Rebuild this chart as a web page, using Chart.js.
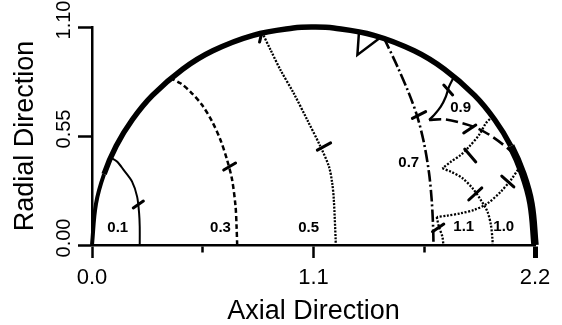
<!DOCTYPE html>
<html><head><meta charset="utf-8">
<script src="https://cdn.jsdelivr.net/npm/chart.js@4.4.1/dist/chart.umd.min.js"></script>
<style>html,body{margin:0;padding:0;background:#fff;overflow:hidden}</style>
</head><body>
<canvas id="chart" width="562" height="325"></canvas>
<script>
// ---- tick values / labels ----
const xTickValues = [0, 0.55, 1.1, 1.65, 2.2];
const xTickLabels = ['0.0', '', '1.1', '', '2.2'];
const yTickValues = [0, 0.55, 1.1];
const yTickLabels = ['0.00', '0.55', '1.10'];

// ---- outer boundary ----
const boundary = [[0,0],[0.02,0.209],[0.06,0.358],[0.12,0.500],[0.2,0.632],[0.3,0.755],[0.45,0.887],[0.6,0.980],[0.8,1.058],[1.0,1.095],[1.1,1.1],[1.2,1.095],[1.4,1.058],[1.6,0.980],[1.75,0.887],[1.9,0.755],[2.0,0.632],[2.08,0.500],[2.14,0.358],[2.18,0.209],[2.2,0]];

// ---- contour lines ----
const contour01 = [[0.237,0],[0.237,0.092],[0.234,0.160],[0.224,0.244],[0.199,0.320],[0.157,0.379],[0.124,0.421],[0.091,0.442]];
const contour03 = [[0.721,0],[0.718,0.092],[0.713,0.193],[0.696,0.328],[0.671,0.429],[0.638,0.530],[0.597,0.622],[0.547,0.706],[0.489,0.773],[0.439,0.816],[0.389,0.842]];
const contour05 = [[0.845,1.072],[0.887,0.984],[0.936,0.883],[1.002,0.765],[1.069,0.631],[1.135,0.496],[1.177,0.395],[1.193,0.311],[1.201,0.227],[1.210,0.025],[1.210,0]];
const contour07 = [[1.450,1.045],[1.517,0.900],[1.574,0.765],[1.616,0.647],[1.649,0.513],[1.674,0.362],[1.687,0.227],[1.694,0.092],[1.696,0]];
const contour07Cusp = [[1.326,1.077],[1.318,0.959],[1.434,1.048]];
const contour09Upper = [[1.798,0.850],[1.773,0.799],[1.757,0.748],[1.732,0.698],[1.699,0.656],[1.674,0.631]];
const contour09Lower = [[1.674,0.631],[1.748,0.634],[1.831,0.617],[1.914,0.589],[1.989,0.546],[2.064,0.488],[2.105,0.446],[2.130,0.390]];
const contour10Upper = [[1.989,0.648],[1.956,0.614],[1.922,0.555],[1.873,0.496],[1.831,0.454],[1.782,0.420],[1.740,0.387]];
const contour10Lower = [[1.740,0.387],[1.782,0.370],[1.840,0.337],[1.890,0.286],[1.931,0.227],[1.964,0.168],[1.981,0.101],[1.989,0.025],[1.989,0]];
const contour11Upper = [[2.125,0.395],[2.080,0.328],[2.030,0.269],[1.964,0.210],[1.898,0.177],[1.831,0.160],[1.765,0.148],[1.712,0.141]];
const contour11Lower = [[1.712,0.141],[1.723,0.092],[1.740,0.042],[1.745,0]];

// ---- small direction marks across the contours (start, end) ----
const markStarts = [[0.205,0.187],[0.654,0.378],[1.119,0.479],[0.832,1.024],[1.591,0.639],[1.691,0.067],[1.747,0.807],[1.846,0.565],[1.851,0.484],[1.871,0.227],[2.035,0.348]];
const markEnds   = [[0.255,0.222],[0.713,0.414],[1.185,0.515],[0.842,1.065],[1.657,0.673],[1.747,0.106],[1.791,0.757],[1.906,0.605],[1.906,0.419],[1.936,0.288],[2.095,0.293]];

// ---- contour level labels ----
const contourLabels = ['0.1', '0.3', '0.5', '0.7', '0.9', '1.1', '1.0'];
const contourLabelX = [0.128, 0.638, 1.076, 1.573, 1.831, 1.846, 2.045];
const contourLabelY = [0.086, 0.086, 0.086, 0.414, 0.694, 0.091, 0.091];

const toXY = arr => arr.map(p => ({x: p[0], y: p[1]}));
const markData = [];
markStarts.forEach((s, i) => {
  markData.push({x: s[0], y: s[1]}, {x: markEnds[i][0], y: markEnds[i][1]}, {x: null, y: null});
});

const FONT = '"Liberation Sans", Arial, sans-serif';
Chart.defaults.font.family = FONT;
Chart.defaults.color = '#000';

function line(data, width, dash, tension, extra) {
  return Object.assign({
    data: toXY(data), showLine: true, borderColor: '#000', backgroundColor: '#000',
    borderWidth: width, borderDash: dash, pointRadius: 0, tension: tension, fill: false, clip: false
  }, extra || {});
}

const labelPlugin = {
  id: 'contourLabels',
  afterDatasetsDraw(chart) {
    const {ctx, scales: {x, y}} = chart;
    ctx.save();
    ctx.font = 'bold 15px ' + FONT;
    ctx.fillStyle = '#000';
    ctx.textAlign = 'center';
    ctx.textBaseline = 'middle';
    contourLabels.forEach((t, i) => {
      ctx.fillText(t, x.getPixelForValue(contourLabelX[i]), y.getPixelForValue(contourLabelY[i]));
    });
    ctx.restore();
  }
};

new Chart(document.getElementById('chart'), {
  type: 'scatter',
  data: {
    datasets: [
      line(boundary, 5, [], 0.4, {capBezierPoints: false, segment: {
        borderWidth: c => c.p0DataIndex >= 17 ? 7.5 : (c.p0DataIndex <= 1 ? 4 : 5.5)
      }}),
      line(contour01, 2, [], 0.3),
      line(contour03, 2.5, [5, 3], 0.3),
      line(contour05, 2.3, [2, 1.4], 0.3),
      line(contour07, 2.6, [12, 3, 2, 3], 0.3),
      line(contour07Cusp, 2.5, [], 0),
      line(contour09Upper, 2.2, [], 0.3),
      line(contour09Lower, 2.6, [12, 5], 0.3),
      line(contour10Upper, 2.3, [2, 1.6], 0.3),
      line(contour10Lower, 2.3, [2, 1.6], 0.3),
      line(contour11Upper, 2.3, [2, 1.6], 0.3),
      line(contour11Lower, 2.3, [2, 1.6], 0.3),
      {data: markData, showLine: true, borderColor: '#000', borderWidth: 3, pointRadius: 0, tension: 0,
       borderCapStyle: 'round', spanGaps: false, clip: false}
    ]
  },
  options: {
    responsive: false,
    animation: false,
    events: [],
    layout: {padding: {top: 27, right: 27, left: 0, bottom: 0}},
    plugins: {legend: {display: false}, tooltip: {enabled: false}},
    scales: {
      x: {
        type: 'linear', min: 0, max: 2.2,
        afterBuildTicks: s => { s.ticks = xTickValues.map(v => ({value: v})); },
        afterFit: s => { s.height = 80; },
        border: {display: true, color: '#000', width: 2.5},
        grid: {
          drawOnChartArea: false, drawTicks: true, tickLength: 13, tickColor: '#000',
          tickWidth: c => c.index === 4 ? 5 : 2.5,
          tickBorderDash: c => (c.index === 1 || c.index === 3) ? [6, 30] : []
        },
        ticks: {
          color: '#000', font: {family: FONT, size: 22}, padding: 7,
          minRotation: 0, maxRotation: 0, autoSkip: false,
          callback: (v, i) => xTickLabels[i]
        },
        title: {display: true, text: 'Axial Direction', color: '#000',
          font: {family: FONT, size: 27, lineHeight: 1}, padding: {top: 0, bottom: 0}}
      },
      y: {
        type: 'linear', min: 0, max: 1.1,
        afterBuildTicks: s => { s.ticks = yTickValues.map(v => ({value: v})); },
        afterFit: s => { s.width = 92; },
        border: {display: true, color: '#000', width: 2.5},
        grid: {drawOnChartArea: false, drawTicks: true, tickLength: 14, tickWidth: 2.5, tickColor: '#000'},
        ticks: {
          color: '#000', font: {family: FONT, size: 20},
          minRotation: 90, maxRotation: 90, crossAlign: 'center', padding: -5.5, labelOffset: -7,
          autoSkip: false,
          callback: (v, i) => yTickLabels[i]
        },
        title: {display: true, text: 'Radial Direction', color: '#000',
          font: {family: FONT, size: 27, lineHeight: 1}, padding: {top: 12.5, bottom: 0}}
      }
    }
  },
  plugins: [labelPlugin]
});
</script>
</body></html>
